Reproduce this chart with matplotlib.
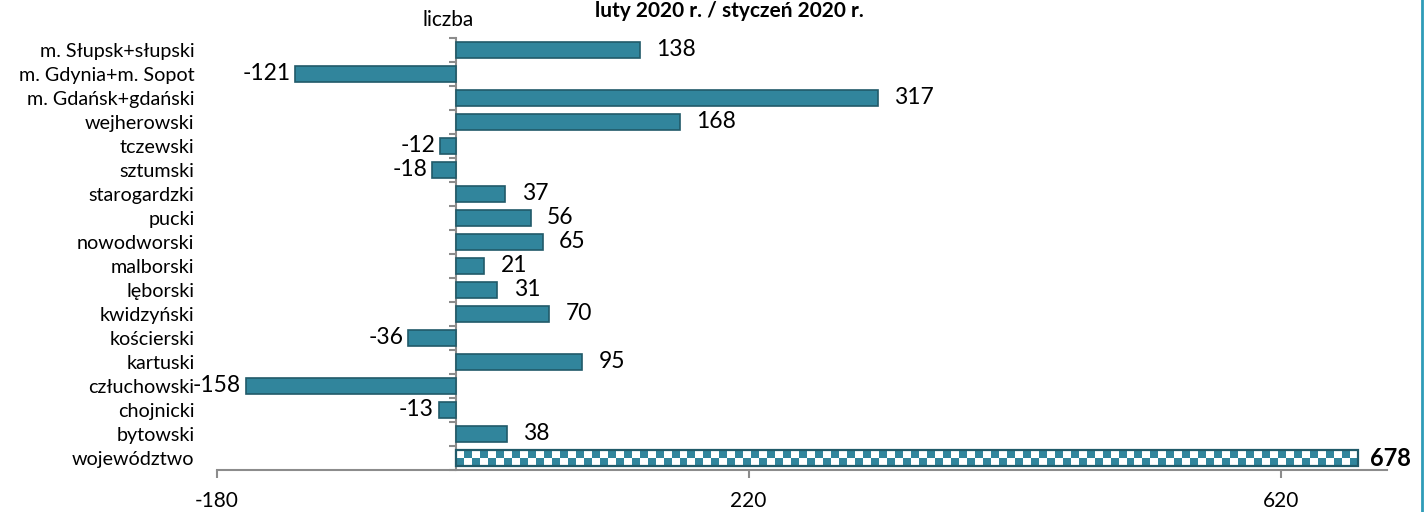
import matplotlib
matplotlib.use("Agg")
import matplotlib.pyplot as plt
import numpy as np
from matplotlib.lines import Line2D
from matplotlib.colors import ListedColormap

categories = ["m. Słupsk+słupski", "m. Gdynia+m. Sopot", "m. Gdańsk+gdański", "wejherowski",
              "tczewski", "sztumski", "starogardzki", "pucki", "nowodworski", "malborski",
              "lęborski", "kwidzyński", "kościerski", "kartuski", "człuchowski", "chojnicki",
              "bytowski", "województwo"]
values = [138, -121, 317, 168, -12, -18, 37, 56, 65, 21, 31, 70, -36, 95, -158, -13, 38, 678]
xticks = [-180, 220, 620]
xlim = (-180, 700)
title = "luty 2020 r. / styczeń 2020 r."
unit = "liczba"

plt.rcParams['font.family'] = ['Lato', 'DejaVu Sans']

W, H = 1427, 512
fig = plt.figure(figsize=(W / 100, H / 100), dpi=100)
ax = fig.add_axes([216.7 / W, 42 / H, (1387 - 216.7) / W, (470 - 38) / H])

face = '#31859C'
edge = '#215A69'
grey = '#8C8C8C'

n = len(categories)
ypos = np.arange(n)
bh = 0.66
bars = ax.barh(ypos, values, height=bh, color=face, edgecolor=edge, linewidth=1.2, zorder=2)
ax.set_xlim(*xlim)
ax.set_ylim(n - 0.5, -0.5)

# checkerboard fill for the total bar
tot = bars[-1]
tot.set_facecolor('white')
x0, y0 = tot.get_x(), tot.get_y()
wv, hv = tot.get_width(), tot.get_height()
fig.canvas.draw()
p0 = ax.transData.transform((x0, y0))
p1 = ax.transData.transform((x0 + wv, y0 + hv))
ncols = max(1, int(round(abs(p1[0] - p0[0]) / 8.0)))
nrows = 2
board = (np.add.outer(np.arange(nrows), np.arange(ncols)) % 2).astype(float)
cmap = ListedColormap(['white', face])
im = ax.imshow(board, cmap=cmap, extent=(x0, x0 + wv, y0 + hv, y0), aspect='auto',
               interpolation='nearest', zorder=2.5, vmin=0, vmax=1)
im.set_clip_path(tot)
ax.barh([ypos[-1]], [values[-1]], height=bh, facecolor='none', edgecolor=edge,
        linewidth=1.6, zorder=3)
ax.set_xlim(*xlim)
ax.set_ylim(n - 0.5, -0.5)

# data labels
for i, v in enumerate(values):
    bold = (i == n - 1)
    if v >= 0:
        ax.annotate(str(v), (v, i), xytext=(12 if not bold else 9, 0), textcoords='offset points',
                    ha='left', va='center', fontsize=17 if bold else 16.5,
                    fontweight='bold' if bold else 'normal', color='black', zorder=4)
    else:
        ax.annotate(str(v), (v, i), xytext=(-3.5, 0), textcoords='offset points',
                    ha='right', va='center', fontsize=16.5, color='black', zorder=4)

# category labels
ax.set_yticks(ypos)
ax.set_yticklabels(categories, fontsize=14.2)
ax.tick_params(axis='y', length=0, pad=16)
ax.spines['left'].set_visible(False)
ax.spines['right'].set_visible(False)
ax.spines['top'].set_visible(False)
ax.spines['bottom'].set_color(grey)
ax.spines['bottom'].set_linewidth(1.5)

# x axis
ax.set_xticks(xticks)
ax.set_xticklabels([str(t) for t in xticks], fontsize=15)
ax.tick_params(axis='x', length=6, width=1.5, color=grey, pad=9)

# vertical axis at zero with boundary tick marks
frac = (0 - xlim[0]) / (xlim[1] - xlim[0])
sec = ax.secondary_yaxis(frac)
sec.set_yticks(np.arange(n + 1) - 0.5)
sec.set_yticklabels([])
sec.tick_params(axis='y', length=5, width=1.5, color=grey, direction='out')
sec.spines['left'].set_color(grey)
sec.spines['left'].set_linewidth(1.5)

fig.text(729 / W, 1 - 17 / H, title, ha='center', va='baseline', fontsize=15, fontweight='bold')
fig.text(448.5 / W, 1 - 26 / H, unit, ha='center', va='baseline', fontsize=15)

fig.add_artist(Line2D([1422 / W, 1422 / W], [0, 1], color='#2E9CB8', linewidth=2,
                      transform=fig.transFigure))

fig.savefig('out.png', dpi=100)
